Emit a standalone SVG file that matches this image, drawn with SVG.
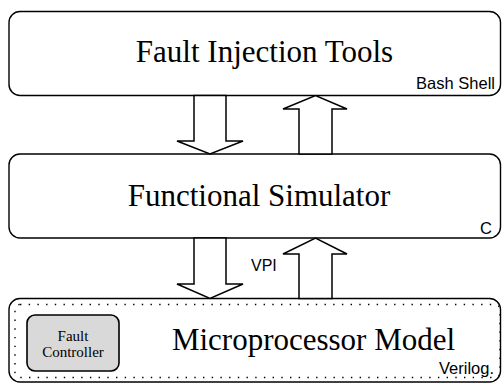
<svg xmlns="http://www.w3.org/2000/svg" width="502" height="383" viewBox="0 0 502 383">
<style>
.box{fill:#fff;stroke:#000;stroke-width:1.4}
.arrow{fill:#fff;stroke:#000;stroke-width:1.5;stroke-linejoin:miter}
.big{font-family:"Liberation Serif","Times New Roman",serif;font-size:31px;fill:#000}
.lbl{font-family:"Liberation Sans",Arial,sans-serif;font-size:16.5px;fill:#000}
.small{font-family:"Liberation Serif","Times New Roman",serif;font-size:15px;fill:#000}
</style>
<rect width="502" height="383" fill="#fff"/>
<g id="fault-injection-tools">
<rect class="box" x="9" y="11.5" width="491.5" height="84" rx="11"/>
<text class="big" x="264.5" y="62" text-anchor="middle">Fault Injection Tools</text>
<text class="lbl" x="495" y="89" text-anchor="end">Bash Shell</text>
</g>
<g id="functional-simulator">
<rect class="box" x="9" y="154" width="491.5" height="84" rx="11"/>
<text class="big" x="259" y="206" text-anchor="middle">Functional Simulator</text>
<text class="lbl" x="492" y="234" text-anchor="end">C</text>
</g>
<g id="microprocessor-model">
<rect class="box" x="9" y="298.5" width="491.5" height="83.5" rx="11"/>
<rect x="15" y="304.5" width="485" height="73" rx="5" fill="none" stroke="#000" stroke-width="1.4" stroke-dasharray="1.4 7.3"/>
<text class="big" x="313.5" y="350" text-anchor="middle">Microprocessor Model</text>
<text class="lbl" x="494" y="374" text-anchor="end">Verilog.</text>
</g>
<g id="fault-controller">
<rect x="27" y="315" width="92" height="56" rx="8" fill="#d9d9d9" stroke="#000" stroke-width="1.6"/>
<text class="small" x="73" y="341" text-anchor="middle">Fault</text>
<text class="small" x="73" y="357" text-anchor="middle">Controller</text>
</g>
<g id="connectors">
<polygon class="arrow" points="194,95.5 226,95.5 226,141 243,141 210,154 177,141 194,141"/>
<polygon class="arrow" points="299,154 332,154 332,109 347,109 315.5,95.5 283,109 299,109"/>
<polygon class="arrow" points="194,238 226,238 226,284 243,284 210,298.5 177,284 194,284"/>
<polygon class="arrow" points="299,298.5 332,298.5 332,254 347,254 315.5,238 283,254 299,254"/>
<text class="lbl" x="251" y="271" style="font-size:16px">VPI</text>
</g>
</svg>
